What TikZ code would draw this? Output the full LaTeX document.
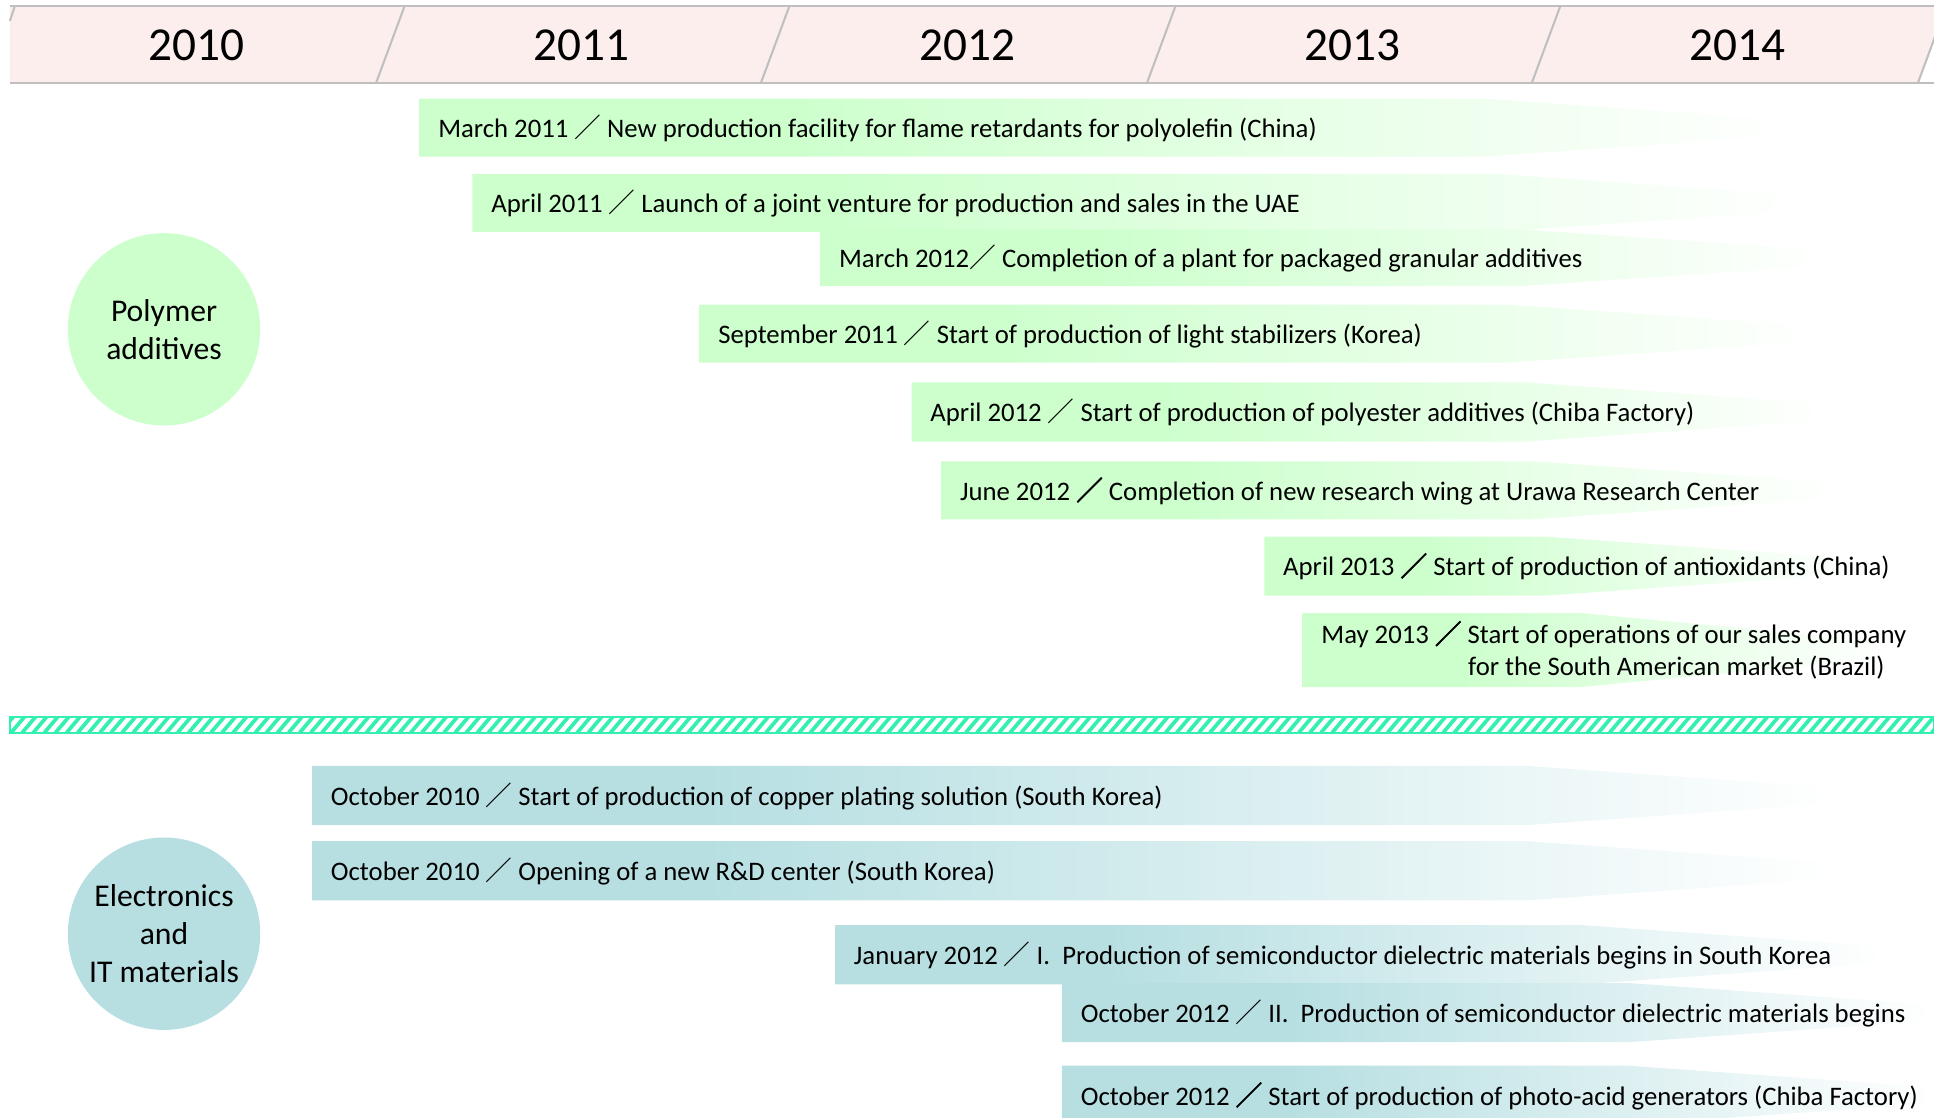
\documentclass[tikz,border=0pt]{standalone}
\usepackage{fontspec}
\setmainfont{Carlito}
\newfontfamily\cjk{Noto Sans CJK JP}
\newfontfamily\cjkheavy[FakeBold=2.5]{Noto Sans CJK JP}
\usetikzlibrary{positioning}

\definecolor{polygreen}{RGB}{204,255,204}
\definecolor{itteal}{RGB}{183,223,226}
\definecolor{headpink}{RGB}{253,238,238}
\definecolor{headgray}{RGB}{191,191,191}
\definecolor{stripegreen}{RGB}{51,240,175}

\pgfdeclarehorizontalshading{greenfade}{100bp}{color(0bp)=(polygreen); color(25bp)=(polygreen); color(38bp)=(polygreen); color(75bp)=(white); color(100bp)=(white)}
\pgfdeclarehorizontalshading{tealfade}{100bp}{color(0bp)=(itteal); color(25bp)=(itteal); color(38bp)=(itteal); color(75bp)=(white); color(100bp)=(white)}

\newcommand{\slsh}{{\cjk ／}}
\newcommand{\bslsh}{{\cjkheavy ／}}

% fading bar with its label: shading, name, x0, ytop, ybot, xend, label shift, text
\newcommand{\evbar}[8]{%
  \pgfmathsetmacro{\yc}{(#4+#5)/2}
  \shade[shading=#1] (#3,#4) -- (#6-248,#4) -- (#6,\yc-6.5) -- (#6,\yc+6.5) -- (#6-248,#5) -- (#3,#5) -- cycle;
  \node[event] (#2) at (#3+15,\yc+4+#7) {#8};
}

\begin{document}
\begin{tikzpicture}[x=0.6pt, y=-0.6pt,
    event/.style={anchor=mid west, inner sep=0pt, font=\fontsize{13}{15.6}\selectfont},
    sector/.style={circle, minimum size=93.6pt, inner sep=0pt, align=center, font=\fontsize{15.4}{18.6}\selectfont},
    headline/.style={draw=headgray, line width=1pt}]
    \useasboundingbox (0,0) rectangle (1568,906);

    % year header
    \fill[headpink] (8,5) -- (1568,5) -- (1568,32) -- (1555,67) -- (8,67) -- cycle;
    \draw[headline] (8,5) -- (1568,5);
    \draw[headline] (8,67) -- (1568,67);
    \draw[headline] (12,5) -- (8,17);
    \draw[headline] (1578,5) -- (1555,67);
    \foreach \x in {328,640,953,1265}
        \draw[headline] (\x,5) -- (\x-23,67);
    \foreach \yr [count=\i] in {2010,2011,2012,2013,2014}
        \node[font=\fontsize{23}{27}\selectfont] (y\yr) at (159+312.5*\i-312.5,37) {\yr};

    % polymer additives
    \node[sector, fill=polygreen] (poly) at (133,267) {Polymer\\additives};
    \evbar{greenfade}{p1}{340}{80}{127}{1450}{0}{March 2011 \slsh\ New production facility for flame retardants for polyolefin (China)}
    \evbar{greenfade}{p2}{383}{141}{188}{1460}{0}{April 2011 \slsh\ Launch of a joint venture for production and sales in the UAE}
    \evbar{greenfade}{p3}{665}{186}{232}{1480}{0}{March 2012\slsh\ Completion of a plant for packaged granular additives}
    \evbar{greenfade}{p4}{567}{247}{294}{1470}{0}{September 2011 \slsh\ Start of production of light stabilizers (Korea)}
    \evbar{greenfade}{p5}{739}{310}{358}{1485}{0}{April 2012 \slsh\ Start of production of polyester additives (Chiba Factory)}
    \evbar{greenfade}{p6}{763}{374}{421}{1490}{0}{June 2012 \bslsh\ Completion of new research wing at Urawa Research Center}
    \evbar{greenfade}{p7}{1025}{435}{483}{1500}{0}{April 2013 \bslsh\ Start of production of antioxidants (China)}
    \evbar{greenfade}{p8}{1056}{497}{557}{1530}{-13}{May 2013 \bslsh\ Start of operations of our sales company}
    \node[event] (p8b) at (1190,544) {for the South American market (Brazil)};

    % striped divider
    \begin{scope}
        \clip (8,581) rectangle (1568,594);
        \foreach \x in {0,9,...,1570}
            \draw[stripegreen, line width=1.8pt] (\x,594) -- (\x+11,581);
    \end{scope}
    \draw[stripegreen, line width=1pt] (8,581) rectangle (1568,594);

    % electronics and IT materials
    \node[sector, fill=itteal] (elec) at (133,757) {Electronics\\and\\IT materials};
    \evbar{tealfade}{e1}{253}{621}{669}{1486}{0}{October 2010 \slsh\ Start of production of copper plating solution (South Korea)}
    \evbar{tealfade}{e2}{253}{682}{730}{1486}{0}{October 2010 \slsh\ Opening of a new R\&D center (South Korea)}
    \evbar{tealfade}{e3}{677}{750}{798}{1530}{0}{January 2012 \slsh\ I.\ \ Production of semiconductor dielectric materials begins in South Korea}
    \evbar{tealfade}{e4}{861}{797}{845}{1568}{0}{October 2012 \slsh\ II.\ \ Production of semiconductor dielectric materials begins}
    \evbar{tealfade}{e5}{861}{864}{912}{1568}{0}{October 2012 \bslsh\ Start of production of photo-acid generators (Chiba Factory)}
\end{tikzpicture}
\end{document}
